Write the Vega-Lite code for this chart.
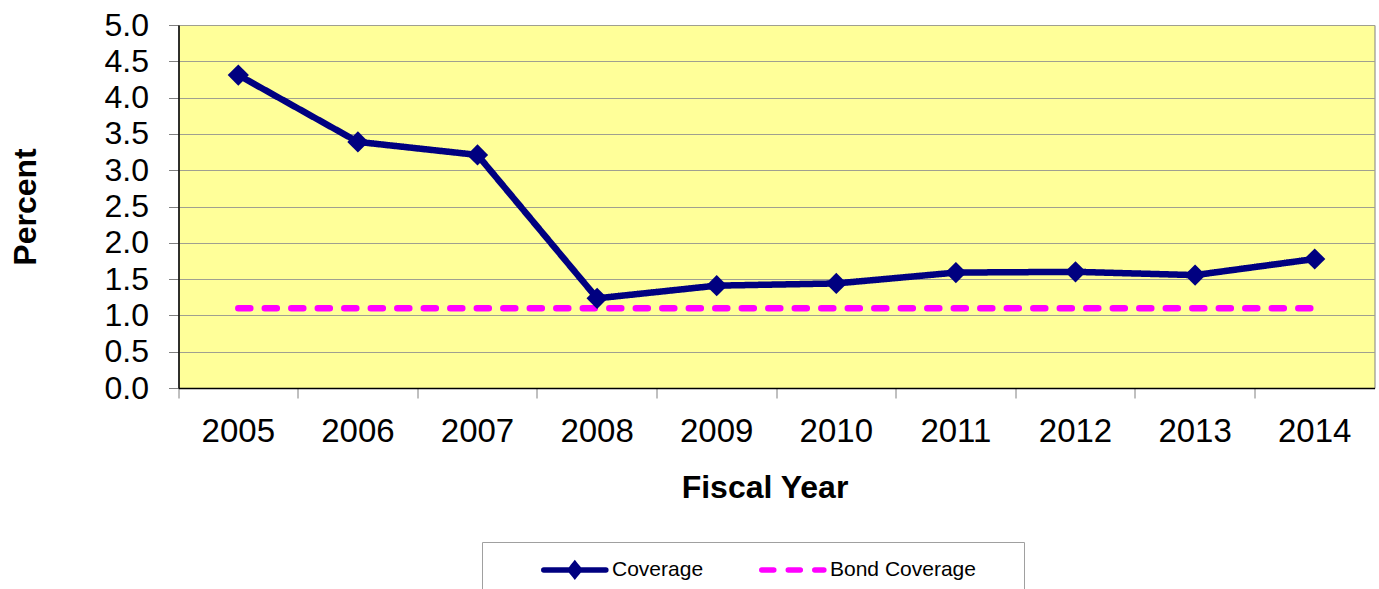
{
  "$schema": "https://vega.github.io/schema/vega-lite/v6.json",
  "autosize": {"type": "none"},
  "padding": {"left": 178.5, "top": 25, "right": 4, "bottom": 201},
  "width": 1196,
  "height": 363,
  "background": "white",
  "config": {
    "font": "Liberation Sans",
    "view": {"fill": "#FFFF99", "stroke": "#808080", "strokeWidth": 1}
  },
  "data": {
    "values": [
      {"year": "2005", "series": "Coverage", "value": 4.31},
      {"year": "2006", "series": "Coverage", "value": 3.39},
      {"year": "2007", "series": "Coverage", "value": 3.21},
      {"year": "2008", "series": "Coverage", "value": 1.235},
      {"year": "2009", "series": "Coverage", "value": 1.41},
      {"year": "2010", "series": "Coverage", "value": 1.44},
      {"year": "2011", "series": "Coverage", "value": 1.59},
      {"year": "2012", "series": "Coverage", "value": 1.6},
      {"year": "2013", "series": "Coverage", "value": 1.555},
      {"year": "2014", "series": "Coverage", "value": 1.777},
      {"year": "2005", "series": "Bond Coverage", "value": 1.1},
      {"year": "2006", "series": "Bond Coverage", "value": 1.1},
      {"year": "2007", "series": "Bond Coverage", "value": 1.1},
      {"year": "2008", "series": "Bond Coverage", "value": 1.1},
      {"year": "2009", "series": "Bond Coverage", "value": 1.1},
      {"year": "2010", "series": "Bond Coverage", "value": 1.1},
      {"year": "2011", "series": "Bond Coverage", "value": 1.1},
      {"year": "2012", "series": "Bond Coverage", "value": 1.1},
      {"year": "2013", "series": "Bond Coverage", "value": 1.1},
      {"year": "2014", "series": "Bond Coverage", "value": 1.1}
    ]
  },
  "encoding": {
    "x": {
      "field": "year",
      "type": "ordinal",
      "sort": null,
      "scale": {"type": "band", "paddingInner": 0, "paddingOuter": 0},
      "axis": {
        "title": "Fiscal Year",
        "titleFontSize": 32,
        "titleFontWeight": "bold",
        "titleColor": "black",
        "titleX": 586,
        "titleY": 109,
        "titleBaseline": "alphabetic",
        "titleAlign": "center",
        "labelAngle": 0,
        "labelFontSize": 33,
        "labelColor": "black",
        "labelPadding": 17,
        "labelBaseline": "top",
        "bandPosition": 0,
        "ticks": true,
        "tickSize": 10,
        "tickColor": "#808080",
        "domain": true,
        "domainColor": "black",
        "domainWidth": 1.5,
        "grid": false
      }
    },
    "y": {
      "field": "value",
      "type": "quantitative",
      "scale": {"domain": [0, 5], "nice": false, "zero": true},
      "axis": {
        "title": "Percent",
        "titleFontSize": 32,
        "titleFontWeight": "bold",
        "titleColor": "black",
        "titleAngle": -90,
        "titleX": -143.5,
        "titleY": 181.5,
        "titleAlign": "center",
        "titleBaseline": "alphabetic",
        "values": [0, 0.5, 1, 1.5, 2, 2.5, 3, 3.5, 4, 4.5, 5],
        "format": ".1f",
        "labelFontSize": 32,
        "labelColor": "black",
        "labelPadding": 20,
        "tickSize": 10,
        "tickColor": "#808080",
        "domain": true,
        "domainColor": "black",
        "domainWidth": 1.5,
        "grid": true,
        "gridColor": "#A0A090",
        "gridWidth": 1
      }
    }
  },
  "layer": [
    {
      "mark": {"type": "line", "strokeWidth": 6.5, "strokeCap": "round", "strokeJoin": "miter"},
      "encoding": {
        "color": {
          "field": "series",
          "type": "nominal",
          "scale": {"domain": ["Coverage", "Bond Coverage"], "range": ["#000080", "#FF00FF"]},
          "legend": {
            "title": "\u00a0",
            "titleOrient": "right",
            "titleFontSize": 10,
            "titlePadding": 34,
            "orient": "none",
            "legendX": 303.5,
            "legendY": 517,
            "direction": "horizontal",
            "strokeColor": "#A0A0A0",
            "fillColor": "white",
            "padding": 14,
            "symbolOffset": 86,
            "symbolType": "M-5,0L1,0",
            "symbolSize": 428,
            "symbolStrokeWidth": 5.5,
            "labelFontSize": 21,
            "labelColor": "black",
            "labelOffset": 3,
            "columnPadding": 10,
            "labelLimit": 400,
            "encode": {
              "symbols": {
                "update": {
                  "shape": {"signal": "datum.value === 'Coverage' ? 'M-5,0L1,0M-2,-0.55L-1.55,0L-2,0.55L-2.45,0Z' : 'M-5,0L1,0M-2,-0.55M-2,0.55'"},
                  "strokeCap": {"value": "round"}
                }
              }
            }
          }
        },
        "strokeDash": {
          "field": "series",
          "type": "nominal",
          "scale": {"domain": ["Coverage", "Bond Coverage"], "range": [[1, 0], [12, 14.5]]},
          "legend": null
        }
      }
    },
    {
      "transform": [{"filter": "datum.series === 'Coverage'"}],
      "mark": {"type": "point", "shape": "diamond", "filled": true, "size": 450, "color": "#000080", "opacity": 1}
    }
  ]
}
